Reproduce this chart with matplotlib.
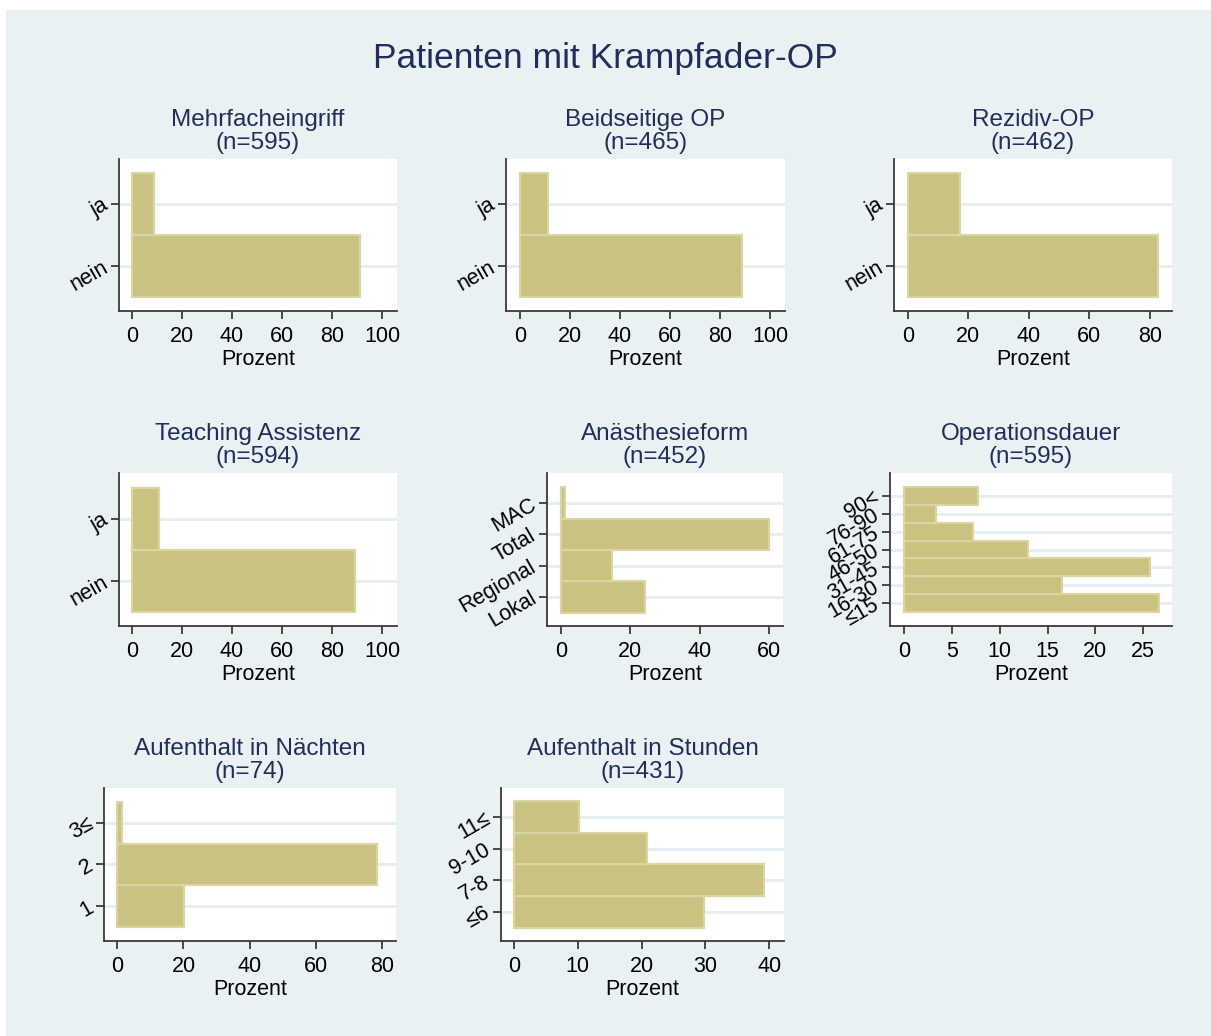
import matplotlib
matplotlib.use("Agg")
import matplotlib.pyplot as plt
from matplotlib.patches import Rectangle

plt.rcParams['font.family'] = ['Liberation Sans', 'DejaVu Sans']

# data (percent per category)
mehrfach_labels = ['nein', 'ja']
mehrfach_pct = [91.3, 8.7]

beidseitig_labels = ['nein', 'ja']
beidseitig_pct = [88.8, 11.2]

rezidiv_labels = ['nein', 'ja']
rezidiv_pct = [82.7, 17.3]

teaching_labels = ['nein', 'ja']
teaching_pct = [89.0, 10.6]

anaesth_labels = ['Lokal', 'Regional', 'Total', 'MAC']
anaesth_pct = [24.3, 14.6, 60.0, 1.1]

opdauer_labels = ['≤15', '16-30', '31-45', '46-50', '61-75', '76-90', '90<']
opdauer_pct = [26.6, 16.5, 25.7, 13.0, 7.2, 3.3, 7.7]

naechte_pos = [1, 2, 3]
naechte_labels = ['1', '2', '3≤']
naechte_pct = [20.3, 78.4, 1.4]

stunden_labels = ['≤6', '7-8', '9-10', '11≤']
stunden_pct = [29.8, 39.2, 20.9, 10.2]

W, H = 1211, 1036
BG = '#eaf1f3'
NAVY = '#1f2e5a'
BAR = '#c9c280'
BAR_EDGE = '#dbd5a3'
AXC = '#3a3a3a'

fig = plt.figure(figsize=(W / 100, H / 100), dpi=100, facecolor='white')
fig.patches.append(Rectangle((6 / W, 0), 1 - 6 / W, 1 - 10 / H,
                             transform=fig.transFigure, facecolor=BG,
                             edgecolor='none', zorder=-10))

fig.text(0.5, 1 - 59 / H, 'Patienten mit Krampfader-OP', ha='center',
         va='center', fontsize=25.5, color=NAVY)


def panel(box, title, n, pos, labels, pct, xticks, xlim, ylim):
    l, t, r, b = box
    ax = fig.add_axes([l / W, 1 - b / H, (r - l) / W, (b - t) / H])
    ax.set_facecolor('white')
    ax.barh(pos, pct, height=1.0, left=0, color=BAR, edgecolor=BAR_EDGE,
            linewidth=1.6, zorder=3)
    ax.set_yticks(pos)
    ax.set_yticklabels(labels, rotation=30, ha='right', va='center',
                       rotation_mode='anchor', fontsize=15.5)
    ax.set_xticks(xticks)
    ax.set_xticklabels([str(v) for v in xticks], fontsize=15.5)
    ax.set_xlim(*xlim)
    ax.set_ylim(*ylim)
    ax.grid(axis='y', color='#e6eef1', linewidth=2, zorder=0)
    ax.set_axisbelow(True)
    for s in ['top', 'right']:
        ax.spines[s].set_visible(False)
    for s in ['left', 'bottom']:
        ax.spines[s].set_color(AXC)
        ax.spines[s].set_linewidth(1.3)
    ax.tick_params(axis='both', length=6, width=1.3, color=AXC)
    ax.tick_params(axis='x', pad=4.5)
    ax.tick_params(axis='y', pad=3)
    ax.set_xlabel('Prozent', fontsize=15.5, labelpad=1.5)
    ax.set_title(f'{title}\n(n={n})', fontsize=17.5, color=NAVY,
                 linespacing=1.1, pad=7)
    return ax


yn = [0, 1]
panel((119, 159, 397, 311), 'Mehrfacheingriff', 595, yn, mehrfach_labels,
      mehrfach_pct, [0, 20, 40, 60, 80, 100], (-5.2, 106), (-0.726, 1.726))
panel((506, 159, 785, 311), 'Beidseitige OP', 465, yn, beidseitig_labels,
      beidseitig_pct, [0, 20, 40, 60, 80, 100], (-5.6, 106), (-0.726, 1.726))
panel((894, 159, 1172, 311), 'Rezidiv-OP', 462, yn, rezidiv_labels,
      rezidiv_pct, [0, 20, 40, 60, 80], (-4.6, 87.3), (-0.726, 1.726))
panel((119, 473, 397, 626), 'Teaching Assistenz', 594, yn, teaching_labels,
      teaching_pct, [0, 20, 40, 60, 80, 100], (-5.2, 106), (-0.726, 1.742))
panel((547, 473, 783, 626), 'Anästhesieform', 452,
      list(range(len(anaesth_labels))), anaesth_labels, anaesth_pct,
      [0, 20, 40, 60], (-4.0, 64.0), (-0.93, 3.96))
panel((890, 473, 1172, 626), 'Operationsdauer', 595,
      list(range(len(opdauer_labels))), opdauer_labels, opdauer_pct,
      [0, 5, 10, 15, 20, 25], (-1.46, 28.0), (-1.29, 7.3))
panel((104, 788, 396, 941), 'Aufenthalt in Nächten', 74, naechte_pos,
      naechte_labels, naechte_pct, [0, 20, 40, 60, 80], (-4.05, 84.3),
      (0.157, 3.84))
panel((501, 788, 784, 941), 'Aufenthalt in Stunden', 431,
      list(range(len(stunden_labels))), stunden_labels, stunden_pct,
      [0, 10, 20, 30, 40], (-2.0, 42.3), (-0.92, 3.91))

fig.savefig('out.png', dpi=100, facecolor=fig.get_facecolor())
